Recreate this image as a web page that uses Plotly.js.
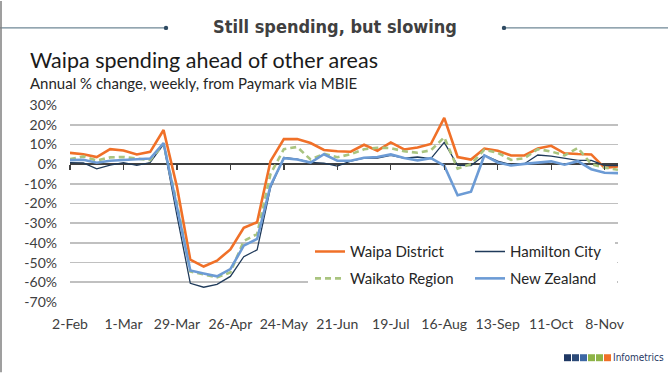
<!DOCTYPE html>
<html>
<head>
<meta charset="utf-8">
<script src="https://cdn.plot.ly/plotly-3.0.1.min.js"></script>
<style>html,body{margin:0;padding:0;background:#fff;}#chart{width:668px;height:373px;}</style>
</head>
<body>
<div id="chart"></div>
<script>
const weeks = ['2020-02-02','2020-02-09','2020-02-16','2020-02-23','2020-03-01','2020-03-08','2020-03-15','2020-03-22','2020-03-29',
  '2020-04-05','2020-04-12','2020-04-19','2020-04-26','2020-05-03','2020-05-10','2020-05-17','2020-05-24','2020-05-31',
  '2020-06-07','2020-06-14','2020-06-21','2020-06-28','2020-07-05','2020-07-12','2020-07-19','2020-07-26',
  '2020-08-02','2020-08-09','2020-08-16','2020-08-23','2020-08-30','2020-09-06','2020-09-13','2020-09-20','2020-09-27',
  '2020-10-04','2020-10-11','2020-10-18','2020-10-25','2020-11-01','2020-11-08','2020-11-15'];
const tickDates = ['2020-02-02','2020-03-01','2020-03-29','2020-04-26','2020-05-24','2020-06-21','2020-07-19','2020-08-16','2020-09-13','2020-10-11','2020-11-08'];
const tickLabels = ['2-Feb','1-Mar','29-Mar','26-Apr','24-May','21-Jun','19-Jul','16-Aug','13-Sep','11-Oct','8-Nov'];
const yTicks = [30,20,10,0,-10,-20,-30,-40,-50,-60,-70];
const yTickLabels = ['30%','20%','10%','0%','-10%','-20%','-30%','-40%','-50%','-60%','-70%'];

const waipa = [5.7,5.0,3.6,7.6,6.9,4.9,6.2,17.3,-11.5,-48.5,
  -52,-49,-43.3,-32.3,-29.5,1.5,12.7,12.7,10.7,7.2,
  6.5,6.3,9.8,6.8,11,7.4,8.4,10.2,23.5,3.6,
  2.3,7.9,6.8,4.4,4.4,7.9,9.3,5.5,5.1,4.9,
  -1.9,-1.2];
const hamilton = [0.7,0.6,-2.4,-0.5,0.7,-0.6,0.8,10,-26,-60.5,
  -62.5,-61,-57,-47,-43.5,-12,3.4,2.5,0.9,0.5,
  -1,1.5,3,3,4.4,3,3.6,2.8,11,-0.6,
  -0.7,4.5,1.5,-0.3,0.2,4.6,4,2.8,1.9,1.9,
  -0.7,-0.8];
const waikato = [2.5,3.9,1.8,3.4,3.6,2.9,2.0,10.2,-20,-54.5,
  -56,-57.5,-55,-39,-35.5,-5,7.6,8.7,2.3,5.2,
  3.5,5,7.5,8.3,8.1,6.5,5.8,7,13.6,-2.3,
  0,7.3,5.7,2.1,3,7.6,6.4,4.4,8.2,0,
  -1.8,-2.9];
const nz = [2,2.2,0.7,1.7,2.1,2.3,2.8,10.7,-22,-54,
  -55.5,-57,-53.3,-41.4,-38,-11,3,2.3,0.8,5,
  1.7,1.7,3.2,3.6,4.9,3.1,1.9,3,-0.8,-15.8,
  -14,4.4,0.8,-0.7,0.1,0.8,1.4,-0.3,1.5,-2.6,
  -4.4,-4.6];

const seriesNames = ['Waipa District','Hamilton City','Waikato Region','New Zealand'];

const txt = '#404040';
const lato = 'Lato, "Open Sans", sans-serif';
const narrow = '"Liberation Sans Narrow", "DejaVu Sans Condensed", "Arial Narrow", sans-serif';

const traces = [
  {x: weeks, y: waipa, name: seriesNames[0], mode: 'lines', line: {color: '#F07028', width: 2.6}, legend: 'legend'},
  {x: weeks, y: hamilton, name: seriesNames[1], mode: 'lines', line: {color: '#1F3A5A', width: 1.3}, legend: 'legend', legendwidth: 90},
  {x: weeks, y: waikato, name: seriesNames[2], mode: 'lines', line: {color: '#A9C47F', width: 2.6, dash: '6px,4px'}, legend: 'legend2'},
  {x: weeks, y: nz, name: seriesNames[3], mode: 'lines', line: {color: '#6C9BD5', width: 2.6}, legend: 'legend2', legendwidth: 100},
  {x: weeks, y: nz, xaxis: 'x2', mode: 'lines', opacity: 0, showlegend: false, hoverinfo: 'skip', line: {width: 0}}
];

const px = v => (v - 70) / 548;
const py = v => (302.5 - v) / 198;

const legendCommon = {
  orientation: 'h', entrywidth: 115, entrywidthmode: 'pixels',
  bgcolor: '#ffffff', bordercolor: '#ffffff',
  font: {family: lato, size: 15, color: '#262626'},
  xanchor: 'left', yanchor: 'middle'
};

const layout = {
  width: 668, height: 373,
  margin: {l: 70, r: 50, t: 104.5, b: 70.5, autoexpand: false},
  paper_bgcolor: '#ffffff', plot_bgcolor: '#ffffff',
  showlegend: true,
  legend: Object.assign({}, legendCommon, {x: px(300), y: py(252), borderwidth: 10}),
  legend2: Object.assign({}, legendCommon, {x: px(308), y: py(279), borderwidth: 2}),
  xaxis: {
    type: 'date', range: [weeks[0], weeks[weeks.length - 1]],
    tickvals: tickDates, ticktext: tickLabels,
    showgrid: false, zeroline: false, showline: false, ticks: '',
    ticklabelstandoff: 12,
    tickfont: {family: lato, size: 14, color: txt}
  },
  xaxis2: {
    type: 'date', overlaying: 'x', anchor: 'free', position: 0.7,
    range: [weeks[0], weeks[weeks.length - 1]],
    tickvals: tickDates, showticklabels: false,
    ticks: 'outside', ticklen: 5, tickwidth: 1.3, tickcolor: '#404040',
    showgrid: false, zeroline: false, showline: false
  },
  yaxis: {
    range: [-70, 30], tickvals: yTicks, ticktext: yTickLabels,
    showgrid: true, gridcolor: '#c0c0c0', gridwidth: 1.6,
    zeroline: true, zerolinecolor: '#404040', zerolinewidth: 1.5,
    showline: false, ticks: '', ticklabelstandoff: 12,
    tickfont: {family: lato, size: 14, color: txt}
  },
  annotations: [
    {text: '<b>Still spending, but slowing</b>', xref: 'paper', yref: 'paper', x: px(335), y: py(26),
     xanchor: 'center', yanchor: 'middle', showarrow: false, font: {family: narrow, size: 18, color: '#404040'}},
    {text: 'Waipa spending ahead of other areas', xref: 'paper', yref: 'paper', x: px(28), y: py(59),
     xanchor: 'left', yanchor: 'middle', showarrow: false, font: {family: lato, size: 21.5, color: '#1a1a1a'}},
    {text: 'Annual % change, weekly, from Paymark via MBIE', xref: 'paper', yref: 'paper', x: px(28), y: py(82),
     xanchor: 'left', yanchor: 'middle', showarrow: false, font: {family: lato, size: 15, color: '#262626'}},
    {text: 'Infometrics', xref: 'paper', yref: 'paper', x: px(611), y: py(358),
     xanchor: 'left', yanchor: 'middle', showarrow: false, font: {family: narrow, size: 10, color: '#1F3864'}}
  ],
  shapes: [
    {type: 'line', xref: 'paper', yref: 'paper', x0: px(0), x1: px(166), y0: py(27), y1: py(27), line: {color: '#6F8796', width: 1.3}},
    {type: 'line', xref: 'paper', yref: 'paper', x0: px(504), x1: px(668), y0: py(27), y1: py(27), line: {color: '#6F8796', width: 1.3}},
    {type: 'circle', xref: 'paper', yref: 'paper', xsizemode: 'pixel', ysizemode: 'pixel', xanchor: px(166), yanchor: py(27),
     x0: -2.2, x1: 2.2, y0: -2.2, y1: 2.2, fillcolor: '#2E4A62', line: {width: 0}},
    {type: 'circle', xref: 'paper', yref: 'paper', xsizemode: 'pixel', ysizemode: 'pixel', xanchor: px(504), yanchor: py(27),
     x0: -2.2, x1: 2.2, y0: -2.2, y1: 2.2, fillcolor: '#2E4A62', line: {width: 0}},
    {type: 'line', xref: 'paper', yref: 'paper', x0: px(1), x1: px(1), y0: py(0), y1: py(373), line: {color: '#7f7f7f', width: 1.5}},
    {type: 'rect', xref: 'paper', yref: 'paper', x0: px(564), x1: px(571), y0: py(355), y1: py(362), fillcolor: '#1F3864', line: {width: 0}},
    {type: 'rect', xref: 'paper', yref: 'paper', x0: px(572), x1: px(579), y0: py(355), y1: py(362), fillcolor: '#2C4A78', line: {width: 0}},
    {type: 'rect', xref: 'paper', yref: 'paper', x0: px(580), x1: px(587), y0: py(355), y1: py(362), fillcolor: '#3D67A4', line: {width: 0}},
    {type: 'rect', xref: 'paper', yref: 'paper', x0: px(588), x1: px(595), y0: py(355), y1: py(362), fillcolor: '#8DB347', line: {width: 0}},
    {type: 'rect', xref: 'paper', yref: 'paper', x0: px(596), x1: px(603), y0: py(355), y1: py(362), fillcolor: '#8DB347', line: {width: 0}},
    {type: 'rect', xref: 'paper', yref: 'paper', x0: px(604), x1: px(611), y0: py(355), y1: py(362), fillcolor: '#F07028', line: {width: 0}}
  ]
};

Plotly.newPlot('chart', traces, layout, {displayModeBar: false, staticPlot: true});
</script>
</body>
</html>
